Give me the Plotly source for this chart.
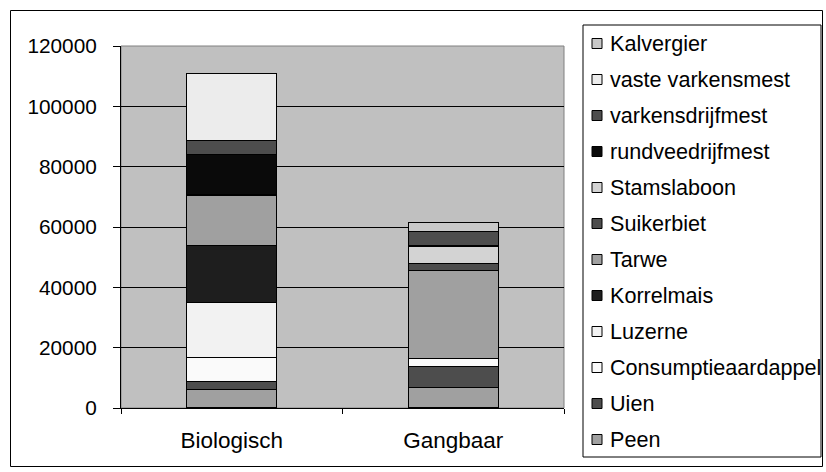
import plotly.graph_objects as go

categories = ["Biologisch", "Gangbaar"]

# stacking order bottom -> top
series_names = ["Peen", "Uien", "Consumptieaardappel", "Luzerne", "Korrelmais", "Tarwe",
                "Suikerbiet", "Stamslaboon", "rundveedrijfmest", "varkensdrijfmest",
                "vaste varkensmest", "Kalvergier"]
peen = [6200, 6700]
uien = [2500, 7000]
consumptieaardappel = [8000, 2600]
luzerne = [18200, 0]
korrelmais = [18900, 0]
tarwe = [16800, 29200]
suikerbiet = [0, 2400]
stamslaboon = [0, 5800]
rundveedrijfmest = [13500, 0]
varkensdrijfmest = [4500, 4700]
vaste_varkensmest = [22300, 0]
kalvergier = [0, 3000]
series_values = [peen, uien, consumptieaardappel, luzerne, korrelmais, tarwe, suikerbiet,
                 stamslaboon, rundveedrijfmest, varkensdrijfmest, vaste_varkensmest, kalvergier]
colors = ["#A0A0A0", "#4D4D4D", "#FAFAFA", "#F2F2F2", "#1E1E1E", "#A0A0A0",
          "#4D4D4D", "#D3D3D3", "#0A0A0A", "#4D4D4D", "#ECECEC", "#C8C8C8"]
y_ticks = [0, 20000, 40000, 60000, 80000, 100000, 120000]

W, H = 826, 472
L, R, T, B = 121, 564, 46, 408
FONT = "Liberation Sans, Arial, sans-serif"


def px(x):
    return (x - L) / (R - L)


def py(y):
    return (B - y) / (B - T)


fig = go.Figure()
for name, vals, col in zip(series_names, series_values, colors):
    fig.add_trace(go.Bar(
        x=categories, y=[v if v else None for v in vals], name=name,
        marker=dict(color=col, line=dict(color="black", width=1.3)),
        showlegend=False,
    ))

shapes = []
annotations = []
# plot area border (gray)
shapes.append(dict(type="rect", xref="paper", yref="paper", x0=0, x1=1, y0=0, y1=1,
                   line=dict(color="#808080", width=1), layer="below"))
# outer chart border
shapes.append(dict(type="rect", xref="paper", yref="paper", x0=px(10.5), x1=px(822.5),
                   y0=py(466.5), y1=py(10.5), line=dict(color="black", width=1)))
# legend box
shapes.append(dict(type="rect", xref="paper", yref="paper", x0=px(583), x1=px(821),
                   y0=py(457), y1=py(25), line=dict(color="black", width=1),
                   fillcolor="white"))
# legend entries, top -> bottom = reversed stacking order
for i, (name, col) in enumerate(zip(series_names[::-1], colors[::-1])):
    cy = 43.5 + 36 * i
    shapes.append(dict(type="rect", xref="paper", yref="paper", x0=px(592), x1=px(602),
                       y0=py(cy + 5), y1=py(cy - 5), fillcolor=col,
                       line=dict(color="black", width=1)))
    annotations.append(dict(xref="paper", yref="paper", x=px(608), y=py(cy), text=name,
                            xanchor="left", yanchor="middle", showarrow=False,
                            font=dict(family=FONT, size=21.6, color="black")))

fig.update_layout(
    width=W, height=H,
    margin=dict(l=L, r=W - R, t=T, b=H - B, pad=0),
    barmode="stack", bargap=0.594,
    paper_bgcolor="white", plot_bgcolor="#C0C0C0",
    font=dict(family=FONT, size=20.5, color="black"),
    shapes=shapes, annotations=annotations,
    xaxis=dict(showline=True, linecolor="black", linewidth=1, ticks="outside",
               tickson="boundaries", ticklen=5, tickcolor="black", showgrid=False,
               ticklabelstandoff=12, tickfont=dict(size=22.5)),
    yaxis=dict(range=[0, 120000], tickvals=y_ticks, tickformat="d", showline=True,
               linecolor="black", linewidth=1, ticks="outside", ticklen=7,
               tickcolor="black", showgrid=True, gridcolor="black", gridwidth=1,
               zeroline=False, ticklabelstandoff=12, tickfont=dict(size=20.8)),
)
fig.write_html("out.html", config={"displayModeBar": False},
               post_script="document.body.style.margin='0px';document.body.style.padding='0px';")
